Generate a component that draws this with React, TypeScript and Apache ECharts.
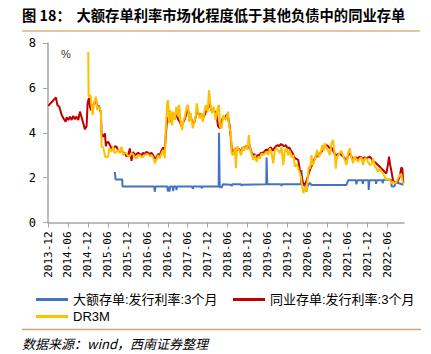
import React, { useEffect, useRef } from "react";
import * as echarts from "echarts";

// x = months since 2013-12 (0 = 2013-12), y = rate in %
const tickMonths = [0, 6, 12, 18, 24, 30, 36, 42, 48, 54, 60, 66, 72, 78, 84, 90, 96, 102];
const yTicks = [0, 2, 4, 6, 8];

const nameCD = "大额存单:发行利率:3个月";
const nameNCD = "同业存单:发行利率:3个月";
const nameDR = "DR3M";

const cdRate = [
  [20.1, 2.25], [20.3, 1.92], [22.3, 1.92], [22.4, 1.6], [31.9, 1.6], [32.1, 1.38], [32.3, 1.6],
  [35.9, 1.6], [36.0, 1.38], [36.2, 1.6], [36.5, 1.38], [36.7, 1.6], [37.5, 1.6], [37.6, 1.4], [37.8, 1.6],
  [38.5, 1.6], [38.6, 1.45], [38.8, 1.6], [43.4, 1.6], [43.5, 1.5], [43.7, 1.6], [46.1, 1.6], [46.2, 1.52],
  [46.4, 1.6], [51.3, 1.6], [51.4, 4.0], [51.6, 1.57], [52.3, 1.57], [52.5, 1.7], [55, 1.68], [55.2, 1.62],
  [55.4, 1.7], [58, 1.7], [58.2, 1.64], [58.4, 1.68], [65.6, 1.7], [65.7, 2.9], [65.9, 1.7], [70, 1.7],
  [70.2, 1.63], [70.4, 1.7], [76.0, 1.7], [76.2, 2.34], [76.5, 1.7], [77.5, 1.6], [77.7, 1.37], [78.0, 1.62],
  [78.7, 1.77], [79.2, 1.67], [89.7, 1.67], [90.2, 1.88], [92.5, 1.88], [92.7, 1.7], [92.9, 1.88],
  [94.5, 1.88], [94.6, 1.72], [94.8, 1.88], [96.3, 1.88], [96.4, 1.45], [96.6, 1.88], [98.5, 1.88],
  [98.6, 1.72], [98.8, 1.88], [100.5, 1.88], [100.6, 1.75], [100.8, 1.9], [103.1, 1.9], [103.3, 1.6],
  [104.2, 1.62], [104.4, 1.8], [105.5, 1.75], [106.8, 1.68],
];

const ncdRate = [
  [0.1, 5.2], [1.0, 5.35], [2.4, 5.58], [2.8, 5.24], [3.4, 5.16], [4.1, 4.79], [4.8, 4.6], [5.3, 4.49],
  [5.6, 4.69], [6.1, 4.57], [6.6, 4.72], [7.1, 4.57], [7.6, 4.75], [8.1, 4.6], [8.6, 4.72], [9.1, 4.57],
  [9.6, 4.94], [10.1, 4.69], [10.6, 4.42], [11.1, 4.15], [11.6, 4.3], [11.9, 5.31], [12.3, 5.55],
  [12.6, 5.16], [13.0, 5.0], [13.4, 5.2], [13.9, 5.3], [14.4, 5.5], [14.8, 5.1], [15.3, 5.2], [15.6, 5.05],
  [15.9, 4.9], [16.1, 3.95], [16.6, 3.82], [17.1, 3.97], [17.4, 3.4], [17.6, 3.54], [18.1, 3.6], [18.6, 3.45],
  [19.1, 3.3], [19.6, 3.23], [20.1, 3.4], [20.6, 3.38], [21.1, 3.2], [21.6, 3.16], [22.1, 3.25], [22.6, 3.08],
  [23.1, 3.1], [23.6, 2.95], [24.1, 3.0], [24.6, 3.3], [25.1, 2.75], [25.6, 3.15], [26.1, 3.0], [26.6, 3.05],
  [27.1, 3.1], [27.6, 3.05], [28.1, 3.0], [28.6, 3.1], [29.1, 3.05], [29.6, 3.15], [30.1, 3.1], [30.6, 3.05],
  [31.1, 3.1], [31.6, 3.0], [32.1, 2.85], [32.6, 2.9], [33.1, 3.05], [33.6, 3.0], [34.1, 3.2], [34.6, 3.35],
  [35.1, 3.2], [35.4, 3.9], [35.8, 4.6], [36.1, 4.7], [36.6, 4.5], [37.1, 4.6], [37.6, 4.75], [38.1, 4.6],
  [38.6, 4.85], [39.1, 4.6], [39.6, 4.5], [40.1, 4.3], [40.6, 4.45], [41.1, 4.6], [41.7, 4.9], [42.1, 5.0],
  [42.6, 4.65], [43.1, 4.6], [43.6, 4.4], [44.1, 4.5], [44.6, 4.85], [45.1, 4.9], [45.6, 4.75], [46.1, 4.85],
  [46.6, 4.65], [47.1, 4.8], [47.6, 5.0], [48.1, 5.1], [48.6, 5.3], [49.1, 5.0], [49.6, 5.05], [50.1, 4.95],
  [50.6, 4.9], [51.1, 4.3], [51.6, 4.2], [52.1, 4.5], [52.6, 4.7], [53.1, 4.6], [53.6, 4.8], [54.1, 4.7],
  [54.6, 4.3], [55.0, 3.7], [55.3, 3.1], [55.8, 3.2], [56.3, 3.3], [56.8, 3.2], [57.4, 3.3], [58.0, 3.1],
  [58.5, 3.35], [59.0, 3.3], [59.5, 3.4], [60.0, 3.3], [60.5, 3.5], [61.0, 3.2], [61.5, 3.0], [62.0, 3.05],
  [62.5, 2.9], [63.0, 3.0], [63.5, 3.0], [64.0, 3.1], [64.5, 3.1], [65.0, 3.15], [65.5, 3.25], [66.0, 3.2],
  [66.5, 3.3], [67.0, 3.35], [67.5, 3.2], [68.0, 3.3], [68.5, 3.4], [69.0, 3.45], [69.5, 3.4], [70.0, 3.5],
  [70.5, 3.45], [71.0, 3.4], [71.5, 3.45], [72.0, 3.3], [72.5, 3.35], [73.0, 3.2], [73.5, 3.1], [74.0, 2.9],
  [74.5, 2.85], [75.2, 2.79], [75.7, 2.34], [76.2, 2.04], [76.7, 1.75], [77.2, 1.7], [77.7, 1.85], [78.2, 2.1],
  [78.7, 2.34], [79.2, 2.5], [79.7, 2.71], [80.2, 2.85], [80.7, 3.0], [81.2, 2.95], [81.7, 3.05], [82.2, 3.16],
  [82.7, 3.25], [83.2, 3.38], [83.7, 3.45], [84.2, 3.4], [84.7, 3.3], [85.2, 3.35], [85.7, 3.2], [86.2, 3.05],
  [86.7, 3.0], [87.2, 3.05], [87.7, 3.08], [88.2, 3.0], [88.7, 2.95], [89.2, 2.85], [89.7, 2.71], [90.2, 3.0],
  [90.7, 3.08], [91.2, 2.95], [91.7, 2.79], [92.2, 2.85], [92.7, 2.9], [93.2, 2.85], [93.7, 2.93], [94.2, 2.9],
  [94.7, 2.85], [95.2, 2.9], [95.7, 2.86], [96.2, 2.9], [96.7, 2.93], [97.2, 2.85], [97.7, 2.71], [98.2, 2.7],
  [98.7, 2.64], [99.2, 2.55], [99.7, 2.49], [100.2, 2.4], [100.7, 2.34], [101.2, 2.25], [101.7, 2.19],
  [102.2, 2.6], [102.5, 2.93], [102.8, 2.6], [103.2, 2.3], [103.7, 1.89], [104.2, 1.75], [104.7, 1.8],
  [105.2, 1.85], [105.7, 2.04], [106.2, 2.46], [106.5, 2.4], [106.8, 1.75],
];

const dr3m = [
  [12.1, 7.6], [12.2, 5.6], [12.8, 5.68], [13.4, 4.79], [13.9, 5.38], [14.4, 5.61], [14.8, 5.01], [15.3, 5.16],
  [15.9, 4.94], [16.1, 3.38], [16.6, 3.35], [17.2, 2.93], [17.6, 2.9], [18.1, 2.93], [18.4, 3.31], [19.1, 3.16],
  [19.6, 3.38], [20.1, 3.08], [20.6, 3.15], [21.1, 3.23], [21.6, 3.1], [22.1, 3.38], [22.6, 3.0], [23.1, 3.1],
  [23.6, 3.08], [24.1, 2.95], [24.6, 2.96], [25.1, 3.1], [25.6, 3.04], [26.1, 2.9], [26.6, 2.86], [27.1, 3.0],
  [27.6, 3.0], [28.1, 2.9], [28.6, 2.93], [29.1, 3.0], [29.6, 3.05], [30.1, 3.04], [30.6, 2.95], [31.1, 3.0],
  [31.6, 2.9], [32.1, 2.64], [32.6, 2.79], [33.1, 3.0], [33.6, 2.85], [34.1, 3.08], [34.6, 3.23], [35.1, 2.86],
  [35.4, 4.12], [35.8, 5.31], [36.1, 5.46], [36.4, 4.42], [36.8, 5.01], [37.3, 4.34], [37.6, 4.94], [38.1, 4.57],
  [38.6, 5.16], [39.1, 4.72], [39.4, 5.24], [39.8, 4.57], [40.3, 4.12], [40.6, 4.49], [41.1, 4.7], [41.7, 5.16],
  [42.1, 5.24], [42.4, 4.49], [42.9, 4.87], [43.5, 4.2], [43.9, 4.42], [44.4, 4.72], [44.7, 5.31], [45.1, 4.94],
  [45.6, 4.64], [46.2, 4.87], [46.5, 4.49], [46.8, 4.72], [47.4, 5.24], [48.0, 4.94], [48.4, 5.9], [48.9, 5.16],
  [49.3, 4.87], [49.8, 5.16], [50.4, 4.57], [50.8, 4.94], [51.1, 5.16], [51.4, 5.24], [51.7, 4.27], [52.2, 4.2],
  [52.6, 4.79], [53.2, 4.57], [53.7, 4.7], [54.1, 4.94], [54.4, 4.34], [55.0, 3.97], [55.2, 3.08], [55.6, 3.0],
  [56.2, 3.31], [56.5, 2.42], [56.8, 3.38], [57.4, 3.25], [58.0, 3.0], [58.5, 3.38], [58.9, 3.2], [59.4, 3.38],
  [59.9, 3.25], [60.4, 3.9], [60.7, 3.31], [61.2, 3.08], [61.7, 2.79], [62.2, 3.0], [62.7, 2.71], [63.2, 2.93],
  [63.7, 2.85], [64.2, 3.08], [64.7, 3.0], [65.2, 3.08], [65.7, 3.16], [66.2, 3.0], [66.7, 3.31], [67.2, 3.08],
  [67.7, 2.64], [68.2, 3.2], [68.7, 3.31], [69.2, 3.2], [69.7, 3.1], [70.2, 3.38], [70.7, 2.56], [71.2, 3.2],
  [71.7, 3.3], [72.2, 3.0], [72.7, 3.2], [73.2, 2.9], [73.7, 3.0], [74.2, 2.49], [74.7, 2.6], [75.2, 2.42],
  [75.7, 2.19], [76.0, 2.04], [76.4, 1.6], [76.8, 1.3], [77.2, 1.6], [77.7, 1.37], [78.0, 1.89], [78.4, 2.49],
  [78.8, 2.4], [79.2, 3.0], [79.5, 2.56], [80.0, 2.7], [80.4, 2.93], [80.9, 3.23], [81.4, 2.9], [81.9, 3.08],
  [82.4, 3.45], [82.8, 3.2], [83.2, 3.53], [83.7, 3.31], [84.2, 3.2], [84.7, 3.0], [85.2, 3.53], [85.7, 3.68],
  [86.2, 3.0], [86.5, 2.4], [86.7, 2.79], [87.2, 3.0], [87.7, 3.1], [88.2, 3.2], [88.7, 2.95], [89.2, 2.79],
  [89.7, 2.56], [90.2, 3.08], [90.7, 3.31], [91.2, 2.9], [91.7, 2.64], [92.2, 2.95], [92.7, 2.8], [93.2, 2.7],
  [93.7, 2.85], [94.2, 2.9], [94.7, 2.56], [95.2, 2.85], [95.7, 2.86], [96.2, 2.7], [96.7, 2.56], [97.2, 2.6],
  [97.7, 2.86], [98.2, 2.5], [98.7, 2.42], [99.2, 2.27], [99.7, 2.4], [100.2, 2.27], [100.7, 2.19],
  [101.2, 2.04], [101.7, 1.89], [102.2, 1.95], [102.7, 1.89], [103.2, 1.75], [103.7, 1.8], [104.2, 1.75],
  [104.7, 1.8], [105.2, 1.97], [105.7, 2.12], [106.2, 2.15], [106.7, 1.75],
];

function monthLabel(m: number): string {
  const total = 2013 * 12 + 11 + Math.round(m);
  const y = Math.floor(total / 12);
  const mo = (total % 12) + 1;
  return `${y}-${mo < 10 ? "0" + mo : mo}`;
}

const CJK = "'Liberation Sans', 'Noto Sans CJK SC', sans-serif";
const MONO = "'DejaVu Sans Mono', monospace";
const AXIS_COLOR = "#A6A6A6";

export default function App() {
  const ref = useRef<HTMLDivElement>(null);
  useEffect(() => {
    if (!ref.current) return;
    const chart = echarts.init(ref.current, null, { renderer: "svg" });
    const legendBase = {
      icon: "rect",
      itemWidth: 32,
      itemHeight: 3,
      padding: 0,
      textStyle: { fontSize: 13, fontFamily: CJK, color: "#000" },
    };
    const titleStyle = {
      fontSize: 14.3,
      fontWeight: "bold",
      fontFamily: "'Noto Sans CJK SC', sans-serif",
      fill: "#000",
    };
    chart.setOption({
      animation: false,
      backgroundColor: "#fff",
      grid: { left: 48, right: 27, top: 43, bottom: 131.5 },
      xAxis: {
        type: "value",
        min: 0,
        max: 107,
        interval: 6,
        splitLine: { show: false },
        axisLine: { show: true, lineStyle: { color: AXIS_COLOR, width: 1.5 } },
        axisTick: { show: true, length: 5, customValues: tickMonths, lineStyle: { color: AXIS_COLOR, width: 1 } },
        axisLabel: {
          rotate: 90,
          customValues: tickMonths,
          formatter: (v: number) => monthLabel(v),
          fontFamily: MONO,
          fontSize: 11,
          color: "#000",
          margin: 9,
        },
      },
      yAxis: {
        type: "value",
        min: 0,
        max: 8,
        interval: 2,
        splitLine: { show: false },
        axisLine: { show: true, lineStyle: { color: AXIS_COLOR, width: 1.5 } },
        axisTick: { show: true, length: 5, customValues: yTicks, lineStyle: { color: AXIS_COLOR } },
        axisLabel: { fontFamily: MONO, fontSize: 12, color: "#000", margin: 12 },
      },
      legend: [
        { ...legendBase, data: [nameCD], left: 36, top: 293 },
        { ...legendBase, data: [nameNCD], left: 233, top: 293 },
        { ...legendBase, data: [nameDR], left: 36, top: 310 },
      ],
      series: [
        { name: nameCD, type: "line", data: cdRate, showSymbol: false, color: "#4472C4", lineStyle: { width: 2, color: "#4472C4" } },
        { name: nameNCD, type: "line", data: ncdRate, showSymbol: false, color: "#C00000", lineStyle: { width: 2, color: "#C00000" } },
        { name: nameDR, type: "line", data: dr3m, showSymbol: false, color: "#FFC000", lineStyle: { width: 2, color: "#FFC000" } },
      ],
      graphic: [
        { type: "text", left: 22, top: 7, style: { ...titleStyle, text: "图 18：" } },
        { type: "text", left: 76.5, top: 7, style: { ...titleStyle, text: "大额存单利率市场化程度低于其他负债中的同业存单" } },
        { type: "line", shape: { x1: 22, y1: 31, x2: 420, y2: 31 }, style: { stroke: "#E2C79E", lineWidth: 2 } },
        {
          type: "text",
          left: 61,
          top: 48,
          style: { text: "%", fontSize: 11, fontFamily: CJK, fill: "#333" },
        },
        { type: "line", shape: { x1: 22, y1: 329.5, x2: 421, y2: 329.5 }, style: { stroke: "#CBA872", lineWidth: 1.5 } },
        {
          type: "text",
          left: 22,
          top: 337,
          style: {
            text: "数据来源：wind，西南证券整理",
            fontSize: 13,
            fontStyle: "italic",
            fontFamily: "'Noto Sans CJK SC', sans-serif",
            fill: "#000",
          },
        },
      ],
    });
    return () => chart.dispose();
  }, []);
  return <div ref={ref} style={{ position: "absolute", left: 0, top: 0, width: 431, height: 354 }} />;
}
